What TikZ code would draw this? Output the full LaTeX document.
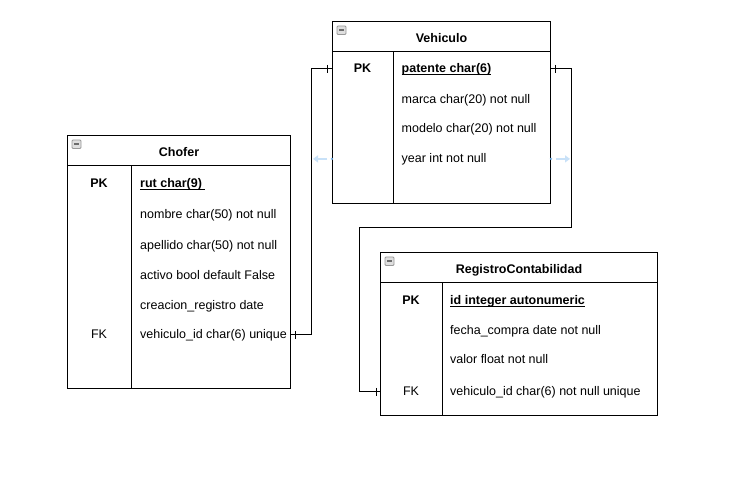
\documentclass[tikz,border=0pt]{standalone}
\usepackage{fontspec}
\setmainfont{Liberation Sans}
\usetikzlibrary{calc,arrows.meta}
\definecolor{hintblue}{RGB}{200,225,248}
\definecolor{hintdot}{RGB}{120,180,235}
\newcommand\pkul[1]{\setbox0\hbox{#1}\rlap{\rule[-2.2pt]{\wd0}{0.8pt}}\box0}
\tikzset{
  tablebox/.style={draw=black, line width=1pt, inner sep=0pt, anchor=north west},
  sepline/.style={draw=black, line width=1pt},
  title/.style={font=\fontsize{12.5}{14}\selectfont\bfseries, inner sep=0pt, anchor=mid, yshift=-1.5pt},
  keytxt/.style={font=\fontsize{12.5}{14}\selectfont\bfseries, inner sep=0pt, anchor=mid, yshift=-1.5pt},
  fktxt/.style={font=\fontsize{12.5}{14}\selectfont, inner sep=0pt, anchor=mid, yshift=-1.5pt},
  field/.style={font=\fontsize{12.5}{14}\selectfont, inner sep=0pt, anchor=mid west, yshift=-1.5pt},
  conn/.style={draw=black, line width=1pt},
  hint/.style={draw=hintblue, line width=2.6pt, -{Triangle[length=5pt,width=7pt]}},
  minusicon/.pic={
    \draw[draw=gray!80, fill=gray!25, line width=0.8pt, rounded corners=1pt] (0,0) rectangle (9,8.5);
    \draw[draw=gray!85!black, line width=1.6pt] (2,4.25) -- (7,4.25);
  }
}
\begin{document}
\begin{tikzpicture}[x=1pt,y=-1pt]
\useasboundingbox[fill=white] (0,0) rectangle (756,481);

% ---------- Chofer ----------
\node[tablebox, minimum width=223pt, minimum height=253pt] (chofer) at (67,135) {};
\draw[sepline] ($(chofer.north west)+(0,31)$) -- ($(chofer.north east)+(0,31)$);
\draw[sepline] (131.5,166) -- (chofer.south -| 131.5,0);
\pic at ($(chofer.north west)+(5,5)$) {minusicon};
\node[title] (chofertitle) at ($(chofer.north)+(0,17)$) {Chofer};
\node[keytxt] (cpkk) at (99,183) {PK};
\node[field] (cpk) at (140,183) {\bfseries\pkul{rut char(9)\ }};
\node[field] (c2) at (140,214) {nombre char(50) not null};
\node[field] (c3) at (140,245) {apellido char(50) not null};
\node[field] (c4) at (140,275) {activo bool default False};
\node[field] (c5) at (140,305) {creacion\_registro date};
\node[fktxt] (cfkk) at (99,334) {FK};
\node[field] (cfk) at (140,334) {vehiculo\_id char(6) unique};

% ---------- Vehiculo ----------
\node[tablebox, minimum width=218pt, minimum height=182pt] (vehiculo) at (332,21) {};
\draw[sepline] ($(vehiculo.north west)+(0,31)$) -- ($(vehiculo.north east)+(0,31)$);
\draw[sepline] (393,52) -- (vehiculo.south -| 393,0);
\pic at ($(vehiculo.north west)+(5,5)$) {minusicon};
\node[title] (vehiculotitle) at ($(vehiculo.north)+(0,17)$) {Vehiculo};
\node[keytxt] (vpkk) at (362.5,68) {PK};
\node[field] (vpk) at (401.5,68) {\bfseries\pkul{patente char(6)}};
\node[field] (v2) at (401.5,99) {marca char(20) not null};
\node[field] (v3) at (401.5,128) {modelo char(20) not null};
\node[field] (v4) at (401.5,158) {year int not null};

% ---------- RegistroContabilidad ----------
\node[tablebox, minimum width=277pt, minimum height=163pt] (registro) at (380,252) {};
\draw[sepline] ($(registro.north west)+(0,30.5)$) -- ($(registro.north east)+(0,30.5)$);
\draw[sepline] (442,282.5) -- (registro.south -| 442,0);
\pic at ($(registro.north west)+(5,5)$) {minusicon};
\node[title] (registrotitle) at ($(registro.north)+(0,17)$) {RegistroContabilidad};
\node[keytxt] (rpkk) at (411,300) {PK};
\node[field] (rpk) at (450,300) {\bfseries\pkul{id integer autonumeric}};
\node[field] (r2) at (450,330) {fecha\_compra date not null};
\node[field] (r3) at (450,359) {valor float not null};
\node[fktxt] (rfkk) at (411,391) {FK};
\node[field] (rfk) at (450,391) {vehiculo\_id char(6) not null unique};

% ---------- connectors ----------
\coordinate (j1) at (311.5,200);
\coordinate (j2) at (571,228);
\coordinate (j3) at (359.5,228);

\draw[conn] (chofer.east |- cfk) -- (j1 |- cfk) -- (j1 |- vpk) -- (vehiculo.west |- vpk);
\draw[conn] ($(chofer.east |- cfk)+(4,-4)$) -- ++(0,8);
\draw[conn] ($(vehiculo.west |- vpk)+(-5,-4)$) -- ++(0,8);

\draw[conn] (vehiculo.east |- vpk) -- (j2 |- vpk) -- (j2) -- (j3) -- (j3 |- rfk) -- (registro.west |- rfk);
\draw[conn] ($(vehiculo.east |- vpk)+(4,-4)$) -- ++(0,8);
\draw[conn] ($(registro.west |- rfk)+(-4,-4)$) -- ++(0,8);

% ---------- hover hints ----------
\draw[hint] ($(vehiculo.west |- v4)+(-5,0)$) -- ($(vehiculo.west |- v4)+(-19,0)$);
\fill[hintdot] (vehiculo.west |- v4) circle (1.3pt);
\draw[hint] ($(vehiculo.east |- v4)+(5,0)$) -- ($(vehiculo.east |- v4)+(19,0)$);
\fill[hintdot] (vehiculo.east |- v4) circle (1.3pt);
\end{tikzpicture}
\end{document}
